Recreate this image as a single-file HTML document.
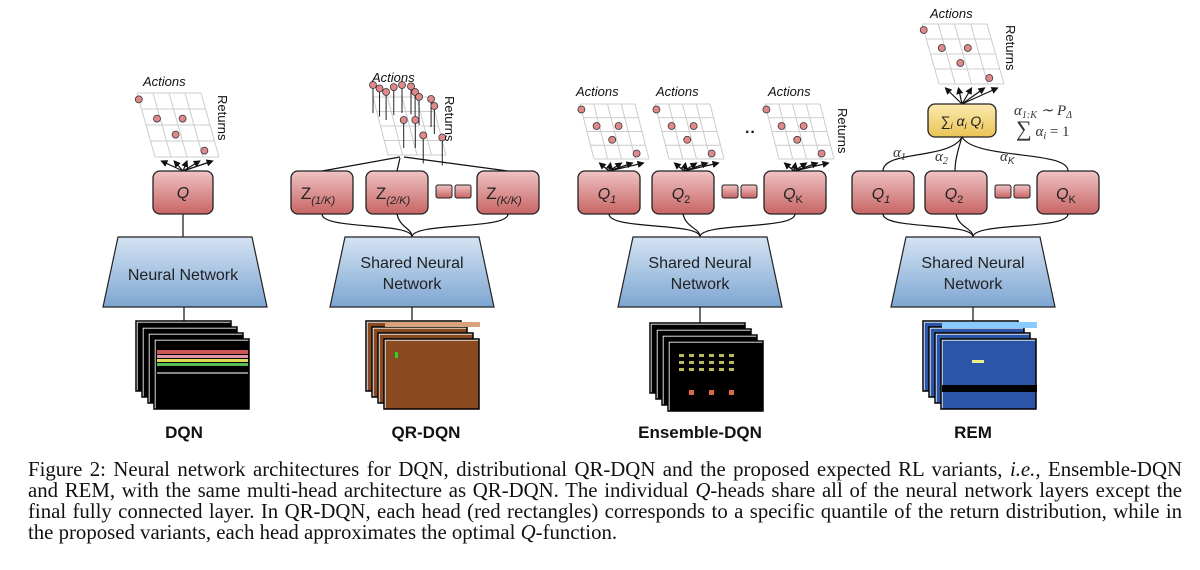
<!DOCTYPE html>
<html><head><meta charset="utf-8">
<style>
body{margin:0;background:#fff;width:1200px;height:570px;overflow:hidden}
svg{position:absolute;left:0;top:0}
.cap{position:absolute;left:28px;top:459px;width:1154px;font-family:"Liberation Serif",serif;font-size:20.8px;line-height:21px;color:#111}
.cap div{text-align:justify;text-align-last:justify;white-space:nowrap}
.cap div.l{text-align-last:left}
.cap i{font-style:italic}
</style></head><body>
<svg id="s" width="1200" height="570" viewBox="0 0 1200 570" font-family="Liberation Sans, sans-serif">
<defs>
<linearGradient id="red" x1="0" y1="0" x2="0" y2="1"><stop offset="0" stop-color="#efc3c3"/><stop offset="1" stop-color="#c86464"/></linearGradient>
<linearGradient id="blue" x1="0" y1="0" x2="0" y2="1"><stop offset="0" stop-color="#d4e3f3"/><stop offset="1" stop-color="#7ea6d2"/></linearGradient>
<linearGradient id="yel" x1="0" y1="0" x2="0" y2="1"><stop offset="0" stop-color="#fbeab0"/><stop offset="1" stop-color="#eac454"/></linearGradient>
<marker id="ar" markerWidth="6" markerHeight="6" refX="5" refY="3" orient="auto"><path d="M0,0 L6,3 L0,6z" fill="#111"/></marker>
</defs>
<g id="g"></g>
<g font-style="italic" font-size="13" fill="#111">
<text x="143" y="86">Actions</text>
<text x="372" y="82">Actions</text>
<text x="576" y="96">Actions</text>
<text x="656" y="96">Actions</text>
<text x="768" y="96">Actions</text>
<text x="930" y="18">Actions</text>
</g>
<g font-size="13" fill="#111">
<text transform="translate(218,95) rotate(90)">Returns</text>
<text transform="translate(445,96) rotate(90)">Returns</text>
<text transform="translate(838,108) rotate(90)">Returns</text>
<text transform="translate(1006,25) rotate(90)">Returns</text>
<text x="745" y="137" font-size="16" font-weight="bold">··</text>
</g>
<g font-size="16" fill="#222" text-anchor="middle">
<text x="183" y="198" font-style="italic">Q</text>
<text x="318" y="199" font-size="17">Z<tspan font-size="11" font-style="italic" dy="5">(1/K)</tspan></text>
<text x="393" y="199" font-size="17">Z<tspan font-size="11" font-style="italic" dy="5">(2/K)</tspan></text>
<text x="504" y="199" font-size="17">Z<tspan font-size="11" font-style="italic" dy="5">(K/K)</tspan></text>
<text x="607" y="199" font-style="italic">Q<tspan font-size="11" dy="4">1</tspan></text>
<text x="681" y="199" font-style="italic">Q<tspan font-size="11" dy="4" font-style="normal">2</tspan></text>
<text x="793" y="199" font-style="italic">Q<tspan font-size="11" dy="4" font-style="normal">K</tspan></text>
<text x="881" y="199" font-style="italic">Q<tspan font-size="11" dy="4">1</tspan></text>
<text x="954" y="199" font-style="italic">Q<tspan font-size="11" dy="4" font-style="normal">2</tspan></text>
<text x="1066" y="199" font-style="italic">Q<tspan font-size="11" dy="4" font-style="normal">K</tspan></text>
<text x="962" y="126" font-size="14">∑<tspan font-size="9" font-style="italic" dy="3">i</tspan><tspan dy="-3" font-style="italic"> α</tspan><tspan font-size="9" font-style="italic" dy="3">i</tspan><tspan dy="-3" font-style="italic"> Q</tspan><tspan font-size="9" font-style="italic" dy="3">i</tspan></text>
<text x="183" y="280">Neural Network</text>
<text x="412" y="268">Shared Neural</text><text x="412" y="289">Network</text>
<text x="700" y="268">Shared Neural</text><text x="700" y="289">Network</text>
<text x="973" y="268">Shared Neural</text><text x="973" y="289">Network</text>
</g>
<g font-family="Liberation Serif, serif" font-style="italic" font-size="15" fill="#333">
<text x="1014" y="115">α<tspan font-size="10" dy="3">1:K</tspan><tspan dy="-3"> ∼ P</tspan><tspan font-size="10" dy="3">Δ</tspan></text>
<text x="1016" y="136"><tspan font-size="22" font-style="normal">∑</tspan> α<tspan font-size="10" dy="3">i</tspan><tspan dy="-3" font-style="normal"> = 1</tspan></text>
<text x="893" y="157">α<tspan font-size="10" dy="3">1</tspan></text>
<text x="935" y="161">α<tspan font-size="10" dy="3">2</tspan></text>
<text x="1000" y="161">α<tspan font-size="10" dy="3" font-family="Liberation Sans">K</tspan></text>
</g>
<g font-size="17" font-weight="bold" fill="#111" text-anchor="middle">
<text x="184" y="438">DQN</text><text x="426" y="438">QR-DQN</text><text x="700" y="438">Ensemble-DQN</text><text x="973" y="438">REM</text>
</g>
</svg>
<div class="cap">
<div>Figure 2: Neural network architectures for DQN, distributional QR-DQN and the proposed expected RL variants, <i>i.e.,</i> Ensemble-DQN</div>
<div>and REM, with the same multi-head architecture as QR-DQN. The individual <i>Q</i>-heads share all of the neural network layers except the</div>
<div>final fully connected layer. In QR-DQN, each head (red rectangles) corresponds to a specific quantile of the return distribution, while in</div>
<div class="l">the proposed variants, each head approximates the optimal <i>Q</i>-function.</div>
</div>
<script>
const g=document.getElementById('g');let h='';
function box(x,y,w,hh,f){h+=`<rect x="${x}" y="${y}" width="${w}" height="${hh}" rx="7" fill="url(#${f||'red'})" stroke="#222" stroke-width="1.3"/>`;}
function small(x){h+=`<rect x="${x}" y="185" width="16" height="13" rx="2" fill="url(#red)" stroke="#222"/><rect x="${x+19}" y="185" width="16" height="13" rx="2" fill="url(#red)" stroke="#222"/>`;}
function trap(cx){h+=`<path d="M${cx-67},237 L${cx+67},237 L${cx+82},307 L${cx-82},307z" fill="url(#blue)" stroke="#222" stroke-width="1.2"/>`;}
function line(d){h+=`<path d="${d}" fill="none" stroke="#111" stroke-width="1.2"/>`;}
function grid(x,y,w,hh,sk,dots){
 for(let i=0;i<=4;i++){let t=i/4;h+=`<line x1="${x+sk*t}" y1="${y+hh*t}" x2="${x+w+sk*t}" y2="${y+hh*t}" stroke="#ccc"/>`;
  h+=`<line x1="${x+w*t}" y1="${y}" x2="${x+w*t+sk}" y2="${y+hh}" stroke="#ccc"/>`;}
 dots.forEach(d=>{let px=x+d[0]*w+d[1]*sk,py=y+d[1]*hh;h+=`<circle cx="${px}" cy="${py}" r="3.5" fill="#e0888a" stroke="#333" stroke-width=".8"/>`;});
}
const D=[[0.0,0.1],[0.2,0.4],[0.6,0.4],[0.42,0.65],[0.8,0.9]];
function fan(cx,cy,x,y,w,hh,sk){for(let i=0;i<5;i++){let px=x+sk+w*(0.1+i*0.2),py=y+hh+4;h+=`<path d="M${cx},${cy} L${px},${py}" fill="none" stroke="#111" stroke-width="1.2" marker-end="url(#ar)"/>`;}}
function frames(x,y,col){for(let i=0;i<4;i++){let fx=x+i*6,fy=y+i*6;h+=`<rect x="${fx}" y="${fy}" width="95" height="70" fill="${col[0]}" stroke="#fff" stroke-width="1.2"/><rect x="${fx}" y="${fy}" width="95" height="70" fill="none" stroke="#000" stroke-width="1.5" transform="translate(-1,-1)"/>`;}
 let fx=x+18,fy=y+18;h+=col[1](fx,fy);}
grid(137,93,64,64,18,D);fan(183,171,137,93,64,64,18);line('M183,214 L183,237');box(153,171,60,43);trap(185);line('M184,307 L184,322');
frames(137,322,['#000',(x,y)=>`<rect x="${x+2}" y="${y+10}" width="91" height="4" fill="#c55"/><rect x="${x+2}" y="${y+15}" width="91" height="3" fill="#d9a"/><rect x="${x+2}" y="${y+19}" width="91" height="3" fill="#dd5"/><rect x="${x+2}" y="${y+23}" width="91" height="3" fill="#5b5"/><rect x="${x+2}" y="${y+32}" width="91" height="2" fill="#888"/>`]);
grid(373,97,58,58,15,[]);
[[0.0,0.0],[0.1,0.05],[0.2,0.1],[0.35,0.03],[0.5,0],[0.65,0.02],[0.7,0.1],[0.75,0.17],[0.95,0.2],[0.98,0.3],[0.4,0.5],[0.6,0.5],[0.68,0.72],[1.0,0.75]].forEach(d=>{let px=373+d[0]*58+d[1]*15,py=85+d[1]*70;h+=`<line x1="${px}" y1="${py}" x2="${px}" y2="${py+28}" stroke="#222"/><circle cx="${px}" cy="${py}" r="3.5" fill="#e0888a" stroke="#333" stroke-width=".8"/>`});
line('M322,171 L400,157');line('M397,171 L400,158');line('M508,171 L404,157');
box(291,171,62,43);box(366,171,62,43);small(436);box(477,171,62,43);
line('M322,214 C322,230 412,222 412,237');line('M397,214 C400,228 412,228 412,237');line('M508,214 C508,230 412,222 412,237');
trap(412);line('M412,307 L412,320');
frames(367,322,['#8a4a20',(x,y)=>`<rect x="${x}" y="${y-18}" width="95" height="5" fill="#d9a27a"/><rect x="${x+10}" y="${y+12}" width="3" height="6" fill="#3c3"/>`]);
[[580,609],[655,684],[765,794]].forEach(([gx,cx])=>{grid(gx,104,55,55,14,D);fan(cx,171,gx,104,55,55,14);});
box(578,171,62,43);box(652,171,62,43);small(722);box(764,171,62,43);
line('M609,214 C609,230 700,222 700,237');line('M683,214 C686,228 700,228 700,237');line('M795,214 C795,230 700,222 700,237');
trap(700);line('M700,307 L700,325');
frames(651,324,['#000',(x,y)=>{let s='';for(let i=0;i<6;i++)for(let j=0;j<3;j++)s+=`<rect x="${x+10+i*10}" y="${y+12+j*7}" width="5" height="3" fill="#bb5"/>`;s+=`<rect x="${x+20}" y="${y+48}" width="5" height="5" fill="#d64"/><rect x="${x+40}" y="${y+48}" width="5" height="5" fill="#d64"/><rect x="${x+60}" y="${y+48}" width="5" height="5" fill="#d64"/>`;return s;}]);
grid(922,24,65,60,17,D);fan(962,104,922,24,65,60,17);
box(928,104,68,33,'yel');
line('M962,137 C950,160 883,150 883,171');line('M962,137 C958,150 955,160 955,171');line('M962,137 C975,160 1068,150 1068,171');
box(852,171,62,43);box(925,171,62,43);small(995);box(1037,171,62,43);
line('M883,214 C883,230 973,222 973,237');line('M956,214 C959,228 973,228 973,237');line('M1068,214 C1068,230 973,222 973,237');
trap(973);line('M973,307 L973,322');
frames(924,322,['#2a55a8',(x,y)=>`<rect x="${x}" y="${y-18}" width="95" height="6" fill="#8cf"/><rect x="${x}" y="${y+45}" width="95" height="7" fill="#000"/><rect x="${x+30}" y="${y+20}" width="12" height="3" fill="#ee8"/>`]);
g.innerHTML=h;
</script>
</body></html>
